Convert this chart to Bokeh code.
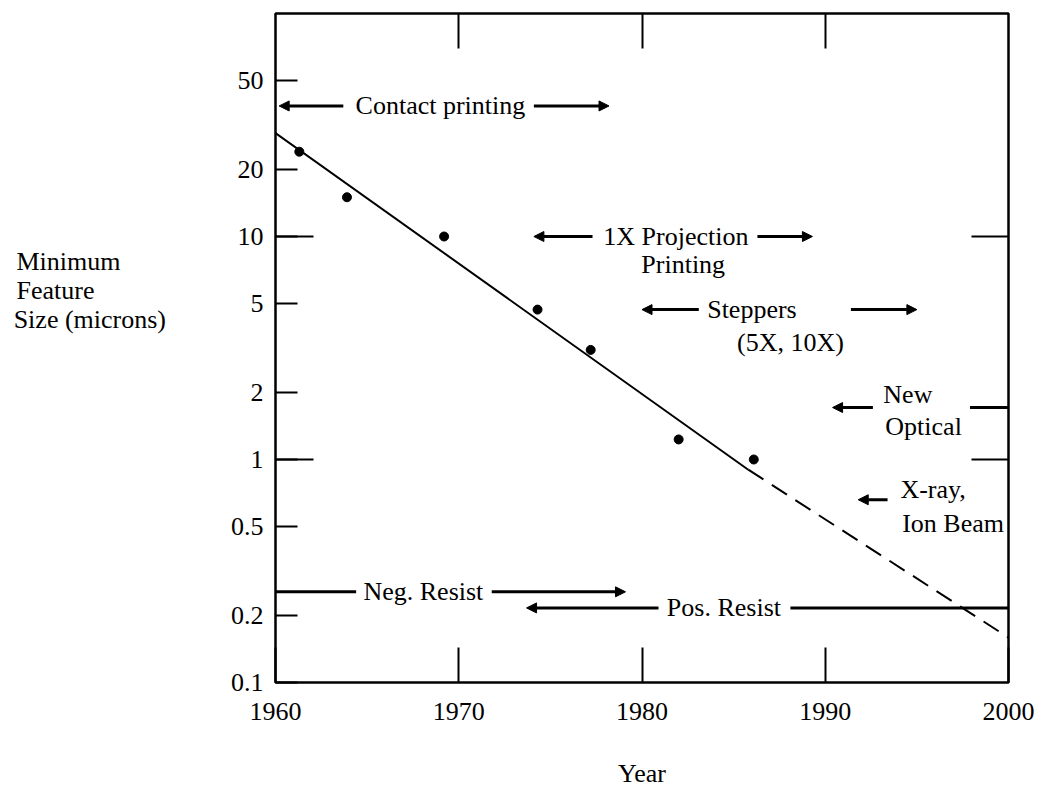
from bokeh.plotting import figure
from bokeh.models import (Range1d, FixedTicker, LinearAxis, LogAxis, CustomJSTickFormatter,
                          ColumnDataSource, Arrow, NormalHead, LabelSet)
from bokeh.core.properties import value
from bokeh.embed import file_html
from bokeh.resources import INLINE

# ---------------- data ----------------
point_years = [1961.3, 1963.9, 1969.2, 1974.3, 1977.2, 1982.0, 1986.1]
point_sizes = [24, 15, 10, 4.7, 3.1, 1.23, 1.0]

trend_years = [1960, 1985.8]
trend_sizes = [29.1, 0.90]
forecast_years = [1985.8, 2000]
forecast_sizes = [0.90, 0.159]

x_ticks = [1960, 1970, 1980, 1990, 2000]
x_tick_labels = ["1960", "1970", "1980", "1990", "2000"]
y_ticks = [0.1, 0.2, 0.5, 1, 2, 5, 10, 20, 50]
y_tick_labels = ["0.1", "0.2", "0.5", "1", "2", "5", "10", "20", "50"]
y_long_ticks = [1, 10]
right_ticks = [1, 10]
top_ticks = [1970, 1980, 1990]

# technology era spans (arrows with heads)
head_x0 = [1963.7, 1974.1, 1977.3, 1986.3, 1983.1, 1991.4, 1992.6, 1993.4, 1971.8, 1980.9]
head_x1 = [1960.2, 1978.2, 1974.1, 1989.3, 1980.0, 1995.0, 1990.4, 1991.8, 1979.1, 1973.7]
head_y = [38.5, 38.5, 10, 10, 4.7, 4.7, 1.71, 0.66, 0.255, 0.216]
# plain span lines (no heads)
plain_x0 = [1960, 1997.9, 1988.1]
plain_x1 = [1964.4, 2000, 2000]
plain_y = [0.255, 1.71, 0.216]

era_texts = ["Contact printing", "1X Projection", "Printing", "Steppers", "(5X, 10X)",
             "Neg. Resist", "Pos. Resist"]
era_x = [1969.0, 1981.85, 1982.25, 1986.0, 1988.1, 1968.07, 1984.47]
era_y = [38.5, 10, 7.5, 4.7, 3.36, 0.255, 0.216]

side_texts = ["New", "Optical", "X-ray,", "Ion Beam"]
side_x = [1993.17, 1993.28, 1994.1, 1994.2]
side_y = [1.95, 1.40, 0.734, 0.518]

y_title_lines = ["Minimum", "Feature", "Size (microns)"]

FONT_NAME = "Liberation Serif"
FONT = value(FONT_NAME)
FS = "26px"

# Left-align the (right-aligned) multi-line axis label with no-break-space padding,
# then pad with empty lines below so the block sits a little above centre.
NBSP = "\u00a0"
y_title = "\n".join([y_title_lines[0] + NBSP * 7,
                     y_title_lines[1] + NBSP * 11,
                     y_title_lines[2]]) + "\n\n\n\n"

p = figure(width=1040, height=790,
           x_range=Range1d(1960, 2000), y_range=Range1d(0.1, 100),
           y_axis_type="log", output_backend="svg", toolbar_location=None,
           min_border_left=275, min_border_right=32, min_border_top=13, min_border_bottom=102)
p.xgrid.visible = False
p.ygrid.visible = False
p.outline_line_color = "black"
p.outline_line_width = 2.5
p.background_fill_color = "white"
p.border_fill_color = "white"

# bottom axis
xa = p.xaxis[0]
xa.ticker = FixedTicker(ticks=x_ticks)
xa.major_label_overrides = dict(zip(x_ticks, x_tick_labels))
xa.major_tick_in = 35
xa.major_tick_out = 0
xa.minor_tick_line_color = None
xa.axis_line_color = None
xa.major_tick_line_width = 2
xa.major_label_standoff = 20
xa.major_label_text_font = FONT_NAME
xa.major_label_text_font_size = FS
xa.major_label_text_color = "black"
xa.axis_label = "Year"
xa.axis_label_text_font = FONT_NAME
xa.axis_label_text_font_size = FS
xa.axis_label_text_font_style = "normal"
xa.axis_label_text_color = "black"
xa.axis_label_standoff = 36

# left axis
ya = p.yaxis[0]
ya.ticker = FixedTicker(ticks=y_ticks, minor_ticks=y_long_ticks)
ya.formatter = CustomJSTickFormatter(args=dict(yt=y_ticks, yl=y_tick_labels), code="""
const i = yt.findIndex(t => Math.abs(Math.log10(t) - Math.log10(tick)) < 1e-6);
return i >= 0 ? yl[i] : "";
""")
ya.major_tick_in = 22
ya.major_tick_out = 0
ya.minor_tick_in = 38
ya.minor_tick_out = 0
ya.minor_tick_line_color = "black"
ya.minor_tick_line_width = 2
ya.axis_line_color = None
ya.major_tick_line_width = 2
ya.major_label_standoff = 12
ya.major_label_text_font = FONT_NAME
ya.major_label_text_font_size = FS
ya.major_label_text_color = "black"
ya.axis_label = y_title
ya.axis_label_orientation = "horizontal"
ya.axis_label_text_font = FONT_NAME
ya.axis_label_text_font_size = FS
ya.axis_label_text_font_style = "normal"
ya.axis_label_text_color = "black"
ya.axis_label_text_line_height = 1.0
ya.axis_label_standoff = 62

# top axis: ticks only
ta = LinearAxis(ticker=FixedTicker(ticks=top_ticks), major_tick_in=35, major_tick_out=0,
                minor_tick_line_color=None, axis_line_color=None, major_tick_line_width=2,
                major_label_text_font_size="0px", major_label_text_color=None,
                major_label_standoff=0)
p.add_layout(ta, "above")

# right axis: ticks only
ra = LogAxis(ticker=FixedTicker(ticks=right_ticks), major_tick_in=37, major_tick_out=0,
             minor_tick_line_color=None, axis_line_color=None, major_tick_line_width=2,
             major_label_text_font_size="0px", major_label_text_color=None,
             major_label_standoff=0)
p.add_layout(ra, "right")

# trend line and projection
p.line(trend_years, trend_sizes, line_color="black", line_width=2)
p.line(forecast_years, forecast_sizes, line_color="black", line_width=2, line_dash="18 10")
p.scatter(point_years, point_sizes, size=9, color="black")

# era arrows
arrow_src = ColumnDataSource(dict(x0=head_x0, x1=head_x1, y=head_y))
p.add_layout(Arrow(end=NormalHead(size=10, fill_color="black", line_color="black", line_width=1),
                   x_start="x0", y_start="y", x_end="x1", y_end="y",
                   source=arrow_src, line_width=3, line_color="black"))
p.segment(x0=plain_x0, y0=plain_y, x1=plain_x1, y1=plain_y, line_color="black", line_width=3)

# era texts
p.add_layout(LabelSet(x="x", y="y", text="text",
                      source=ColumnDataSource(dict(x=era_x, y=era_y, text=era_texts)),
                      text_align="center", text_baseline="middle", text_font=FONT,
                      text_font_size=FS, text_color="black"))
p.add_layout(LabelSet(x="x", y="y", text="text",
                      source=ColumnDataSource(dict(x=side_x, y=side_y, text=side_texts)),
                      text_align="left", text_baseline="middle", text_font=FONT,
                      text_font_size=FS, text_color="black"))

open("out.html", "w").write(file_html(p, INLINE))
